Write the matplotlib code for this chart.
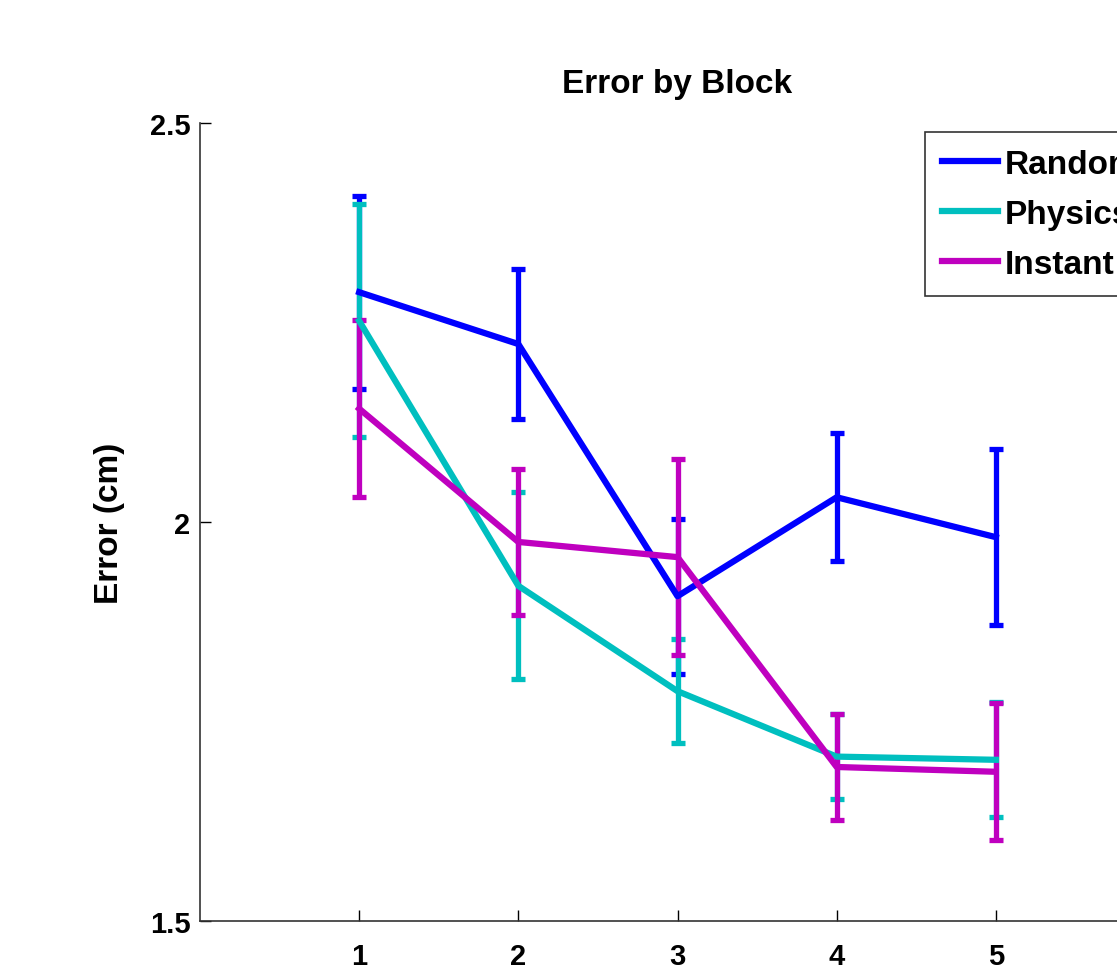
import matplotlib
matplotlib.use("Agg")
import matplotlib.pyplot as plt
from matplotlib.lines import Line2D

blocks = [1, 2, 3, 4, 5]
series_names = ["Random", "Physics", "Instant"]
random_mean = [2.288, 2.223, 1.907, 2.031, 1.981]
random_err = [0.121, 0.094, 0.097, 0.080, 0.110]
physics_mean = [2.252, 1.920, 1.788, 1.706, 1.702]
physics_err = [0.146, 0.117, 0.065, 0.053, 0.072]
instant_mean = [2.142, 1.975, 1.956, 1.693, 1.687]
instant_err = [0.111, 0.091, 0.123, 0.066, 0.086]
colors = ["#0000ff", "#00bfbf", "#bf00bf"]

plt.rcParams['font.family'] = ['Liberation Sans', 'DejaVu Sans']
plt.rcParams['font.weight'] = 'bold'

fig = plt.figure(figsize=(11.17, 9.70), dpi=100)
left = 200 / 1117
bottom = (970 - 922) / 970
width = (1155 - 200) / 1117
height = (922 - 124) / 970
ax = fig.add_axes([left, bottom, width, height])

handles = []
for m, e, c, n in zip([random_mean, physics_mean, instant_mean],
                      [random_err, physics_err, instant_err], colors, series_names):
    ax.errorbar(blocks, m, yerr=e, color=c, linewidth=4.5, elinewidth=3.8,
                capsize=5, capthick=3.8)
    handles.append(Line2D([], [], color=c, linewidth=4.5, label=n))

ax.set_xlim(0, 6)
ax.set_ylim(1.5, 2.5)
ax.set_xticks(blocks)
ax.set_xticklabels([str(b) for b in blocks])
ax.set_yticks([1.5, 2.0, 2.5])
ax.set_yticklabels(["1.5", "2", "2.5"])
ax.tick_params(direction='in', length=8, width=1, labelsize=21)
ax.tick_params(axis='x', pad=15)
ax.tick_params(axis='y', pad=7)
for lbl in ax.get_xticklabels() + ax.get_yticklabels():
    lbl.set_fontweight('bold')
ax.spines['top'].set_visible(False)
ax.spines['right'].set_visible(False)
for s in ['left', 'bottom']:
    ax.spines[s].set_linewidth(1.2)
    ax.spines[s].set_color('#333333')

ax.set_title("Error by Block", fontsize=24, fontweight='bold', pad=22)
ax.set_ylabel("Error (cm)", fontsize=24, fontweight='bold', labelpad=18)

leg = ax.legend(handles=handles, loc='upper left',
                bbox_to_anchor=(925 / 1117, 1 - 133 / 970),
                bbox_transform=fig.transFigure, borderaxespad=0, fontsize=24,
                frameon=True, fancybox=False, handlelength=1.7, handletextpad=0.2,
                labelspacing=0.57, borderpad=0.5)
leg.get_frame().set_edgecolor('black')
leg.get_frame().set_linewidth(1.2)
for t in leg.get_texts():
    t.set_fontweight('bold')

fig.savefig("out.png", dpi=100)
